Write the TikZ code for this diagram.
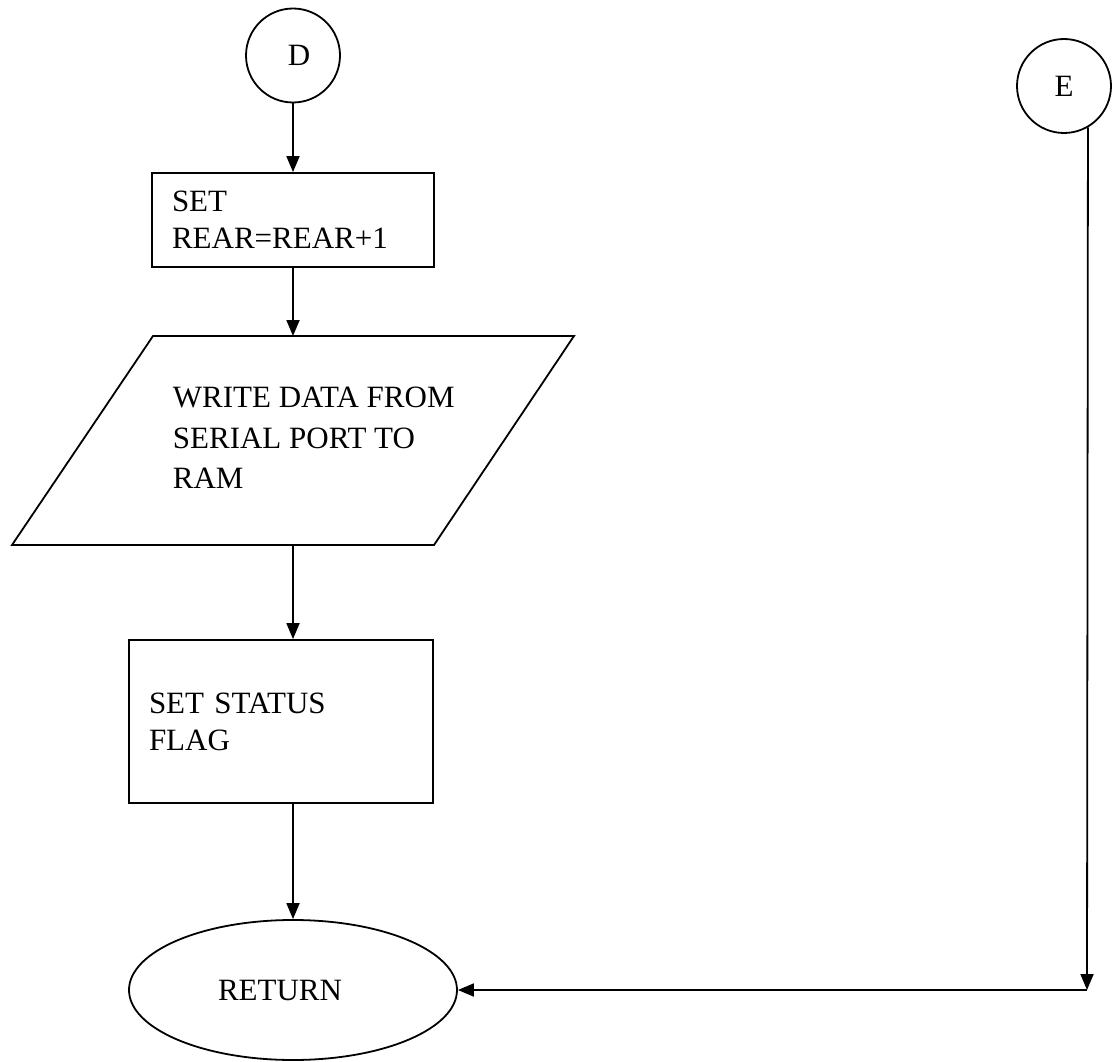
\documentclass[tikz,border=0pt]{standalone}
\usepackage{fontspec}
\setmainfont{Liberation Serif}
\usetikzlibrary{arrows.meta,shapes.geometric}
\begin{document}
\begin{tikzpicture}[x=1pt,y=-1pt,
  line width=1.8pt,
  every node/.style={font=\fontsize{31}{37}\selectfont},
  conn/.style={draw,circle,minimum size=94pt,inner sep=0pt},
  procbox/.style={draw,rectangle,align=left,inner xsep=20pt,inner ysep=0pt},
  terminal/.style={draw,ellipse,minimum width=328pt,minimum height=140pt,inner sep=0pt},
  arr/.style={-{Triangle[length=16pt,width=13pt]}}]
  \useasboundingbox (0,0) rectangle (1120,1062);

  % connectors
  \node[conn] (D) at (293,55.5) {\hspace*{12pt}\raisebox{-4pt}{D}};
  \node[conn] (E) at (1064,86) {E};

  % SET REAR=REAR+1
  \node[procbox,text width=242pt,minimum height=94pt] (rear) at (293,220)
    {SET\\REAR=REAR+1};

  % input/output parallelogram
  \coordinate (pTL) at (153,336);
  \coordinate (pTR) at (574,336);
  \coordinate (pBR) at (434,545);
  \coordinate (pBL) at (12,545);
  \draw (pTL) -- (pTR) -- (pBR) -- (pBL) -- cycle;
  \coordinate (pTop) at (293,336);
  \coordinate (pBot) at (293,545);
  \node[align=left,anchor=west,inner sep=0pt,font=\fontsize{31}{40.5}\selectfont] (write) at (172,438)
    {WRITE DATA FROM\\SERIAL PORT TO\\RAM};

  % SET STATUS FLAG
  \node[procbox,text width=264pt,minimum height=163pt] (status) at (281,721.5)
    {SET STATUS\\FLAG};

  % RETURN
  \node[terminal] (ret) at (293,990) {\raisebox{-4pt}{RETURN}\hspace*{26pt}};

  % flow lines
  \draw[arr] (D.south) -- (D.south |- rear.north);
  \draw[arr] (rear.south) -- (pTop);
  \draw[arr] (pBot) -- (pBot |- status.north);
  \draw[arr] (pBot |- status.south) -- (ret.north);
  \coordinate (corner) at (1087,990);
  \draw[arr] (E.-60.7) -- (corner);
  \draw[arr] (corner) -- (ret.east);
\end{tikzpicture}
\end{document}
